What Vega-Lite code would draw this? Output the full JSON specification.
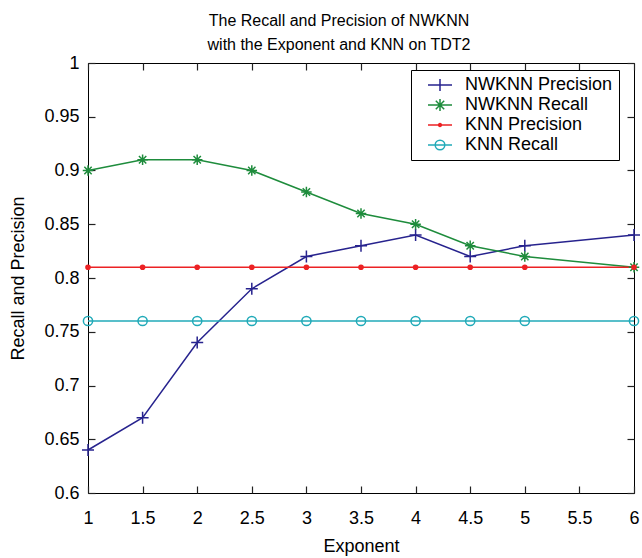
{
  "$schema": "https://vega.github.io/schema/vega-lite/v6.json",
  "width": 546,
  "height": 430,
  "autosize": {"type": "none"},
  "padding": {"left": 88, "top": 63, "right": 8, "bottom": 65},
  "background": "white",
  "title": {
    "text": ["The Recall and Precision of NWKNN", "with the Exponent and KNN on TDT2"],
    "font": "Liberation Sans",
    "fontSize": 16,
    "fontWeight": "normal",
    "color": "black",
    "anchor": "middle",
    "lineHeight": 24,
    "offset": 1,
    "dx": -22
  },
  "config": {
    "view": {"stroke": "black", "strokeWidth": 1},
    "axis": {
      "grid": false,
      "domain": false,
      "labelColor": "black",
      "titleColor": "black",
      "labelFont": "Liberation Sans",
      "titleFont": "Liberation Sans",
      "labelFontSize": 18,
      "titleFontSize": 18,
      "titleFontWeight": "normal",
      "labelFlush": false,
      "labelOverlap": false
    }
  },
  "datasets": {
    "main": [
      {"exponent": 1, "value": 0.64, "series": "NWKNN Precision"},
      {"exponent": 1.5, "value": 0.67, "series": "NWKNN Precision"},
      {"exponent": 2, "value": 0.74, "series": "NWKNN Precision"},
      {"exponent": 2.5, "value": 0.79, "series": "NWKNN Precision"},
      {"exponent": 3, "value": 0.82, "series": "NWKNN Precision"},
      {"exponent": 3.5, "value": 0.83, "series": "NWKNN Precision"},
      {"exponent": 4, "value": 0.84, "series": "NWKNN Precision"},
      {"exponent": 4.5, "value": 0.82, "series": "NWKNN Precision"},
      {"exponent": 5, "value": 0.83, "series": "NWKNN Precision"},
      {"exponent": 6, "value": 0.84, "series": "NWKNN Precision"},
      {"exponent": 1, "value": 0.90, "series": "NWKNN Recall"},
      {"exponent": 1.5, "value": 0.91, "series": "NWKNN Recall"},
      {"exponent": 2, "value": 0.91, "series": "NWKNN Recall"},
      {"exponent": 2.5, "value": 0.90, "series": "NWKNN Recall"},
      {"exponent": 3, "value": 0.88, "series": "NWKNN Recall"},
      {"exponent": 3.5, "value": 0.86, "series": "NWKNN Recall"},
      {"exponent": 4, "value": 0.85, "series": "NWKNN Recall"},
      {"exponent": 4.5, "value": 0.83, "series": "NWKNN Recall"},
      {"exponent": 5, "value": 0.82, "series": "NWKNN Recall"},
      {"exponent": 6, "value": 0.81, "series": "NWKNN Recall"},
      {"exponent": 1, "value": 0.81, "series": "KNN Precision"},
      {"exponent": 1.5, "value": 0.81, "series": "KNN Precision"},
      {"exponent": 2, "value": 0.81, "series": "KNN Precision"},
      {"exponent": 2.5, "value": 0.81, "series": "KNN Precision"},
      {"exponent": 3, "value": 0.81, "series": "KNN Precision"},
      {"exponent": 3.5, "value": 0.81, "series": "KNN Precision"},
      {"exponent": 4, "value": 0.81, "series": "KNN Precision"},
      {"exponent": 4.5, "value": 0.81, "series": "KNN Precision"},
      {"exponent": 5, "value": 0.81, "series": "KNN Precision"},
      {"exponent": 6, "value": 0.81, "series": "KNN Precision"},
      {"exponent": 1, "value": 0.76, "series": "KNN Recall"},
      {"exponent": 1.5, "value": 0.76, "series": "KNN Recall"},
      {"exponent": 2, "value": 0.76, "series": "KNN Recall"},
      {"exponent": 2.5, "value": 0.76, "series": "KNN Recall"},
      {"exponent": 3, "value": 0.76, "series": "KNN Recall"},
      {"exponent": 3.5, "value": 0.76, "series": "KNN Recall"},
      {"exponent": 4, "value": 0.76, "series": "KNN Recall"},
      {"exponent": 4.5, "value": 0.76, "series": "KNN Recall"},
      {"exponent": 5, "value": 0.76, "series": "KNN Recall"},
      {"exponent": 6, "value": 0.76, "series": "KNN Recall"}
    ],
    "legend": [
      {"exponent": 0, "value": 0.5, "series": "NWKNN Precision"},
      {"exponent": 0, "value": 0.5, "series": "NWKNN Recall"},
      {"exponent": 0, "value": 0.5, "series": "KNN Precision"},
      {"exponent": 0, "value": 0.5, "series": "KNN Recall"}
    ]
  },
  "data": {"name": "main"},
  "resolve": {"axis": {"x": "independent", "y": "independent"}},
  "layer": [
    {
      "data": {"name": "legend"},
      "mark": {"type": "point", "filled": false, "clip": true, "strokeWidth": 1.5, "opacity": 1},
      "encoding": {
        "x": {"field": "exponent", "type": "quantitative", "scale": {"domain": [1, 6]},
              "axis": {"values": [1, 1.5, 2, 2.5, 3, 3.5, 4, 4.5, 5, 5.5, 6], "format": "~g", "title": "Exponent", "labelPadding": 16, "titlePadding": 10, "offset": -7,
                       "ticks": true, "tickSize": 7, "tickColor": "#222222", "tickWidth": 1.2}},
        "y": {"field": "value", "type": "quantitative", "scale": {"domain": [0.6, 1]},
              "axis": {"values": [0.6, 0.65, 0.7, 0.75, 0.8, 0.85, 0.9, 0.95, 1], "format": "~g", "title": "Recall and Precision", "labelPadding": 9, "titlePadding": 16, "offset": -7,
                       "ticks": true, "tickSize": 7, "tickColor": "#222222", "tickWidth": 1.2}},
        "color": {"field": "series", "type": "nominal",
                  "scale": {"domain": ["NWKNN Precision", "NWKNN Recall", "KNN Precision", "KNN Recall"], "range": ["#27238e", "#1e8c3c", "#ec2224", "#20aab8"]},
                  "legend": {"orient": "none", "legendX": 323, "legendY": 7, "title": null,
                             "strokeColor": "black", "fillColor": "white", "padding": 6,
                             "symbolSize": 144, "symbolStrokeWidth": 1.5, "symbolOffset": 14, "symbolFillColor": "transparent",
                             "labelFont": "Liberation Sans", "labelFontSize": 18, "labelColor": "black",
                             "labelOffset": 16, "rowPadding": 2, "labelLimit": 300}},
        "shape": {"field": "series", "type": "nominal",
                  "scale": {"domain": ["NWKNN Precision", "NWKNN Recall", "KNN Precision", "KNN Recall"],
                            "range": ["M-2,0H2M0,-1V1",
                                      "M-2,0H2M0,-1V1M-0.7,-0.7L0.7,0.7M-0.7,0.7L0.7,-0.7",
                                      "M-2,0H2M-0.25,0A0.25,0.25 0 1,0 0.25,0A0.25,0.25 0 1,0 -0.25,0",
                                      "M-2,0H2M-0.8,0A0.8,0.8 0 1,0 0.8,0A0.8,0.8 0 1,0 -0.8,0"]},
                  "legend": {"orient": "none", "legendX": 323, "legendY": 7, "title": null,
                             "strokeColor": "black", "fillColor": "white", "padding": 6,
                             "symbolSize": 144, "symbolStrokeWidth": 1.5, "symbolOffset": 14, "symbolFillColor": "transparent",
                             "labelFont": "Liberation Sans", "labelFontSize": 18, "labelColor": "black",
                             "labelOffset": 16, "rowPadding": 2, "labelLimit": 300}}
      }
    },
    {
      "mark": {"type": "line", "strokeWidth": 1.5},
      "encoding": {
        "x": {"field": "exponent", "type": "quantitative",
              "axis": {"orient": "top", "values": [1, 1.5, 2, 2.5, 3, 3.5, 4, 4.5, 5, 5.5, 6], "labels": false, "title": null, "offset": -7,
                       "ticks": true, "tickSize": 7, "tickColor": "#222222", "tickWidth": 1.2}},
        "y": {"field": "value", "type": "quantitative",
              "axis": {"orient": "right", "values": [0.6, 0.65, 0.7, 0.75, 0.8, 0.85, 0.9, 0.95, 1], "labels": false, "title": null, "offset": -7,
                       "ticks": true, "tickSize": 7, "tickColor": "#222222", "tickWidth": 1.2}},
        "color": {"field": "series", "type": "nominal"},
        "detail": {"field": "series"}
      }
    },
    {
      "transform": [{"filter": "datum.series === 'NWKNN Precision'"}],
      "mark": {"type": "point", "shape": "M-1,0H1M0,-1V1", "filled": false, "size": 144, "strokeWidth": 1.5, "opacity": 1},
      "encoding": {
        "x": {"field": "exponent", "type": "quantitative", "axis": null},
        "y": {"field": "value", "type": "quantitative", "axis": null},
        "color": {"field": "series", "type": "nominal"}
      }
    },
    {
      "transform": [{"filter": "datum.series === 'NWKNN Recall'"}],
      "mark": {"type": "point", "shape": "M-1,0H1M0,-1V1M-0.7,-0.7L0.7,0.7M-0.7,0.7L0.7,-0.7", "filled": false, "size": 110, "strokeWidth": 1.5, "opacity": 1},
      "encoding": {
        "x": {"field": "exponent", "type": "quantitative", "axis": null},
        "y": {"field": "value", "type": "quantitative", "axis": null},
        "color": {"field": "series", "type": "nominal"}
      }
    },
    {
      "transform": [{"filter": "datum.series === 'KNN Precision'"}],
      "mark": {"type": "point", "shape": "circle", "filled": false, "size": 7, "strokeWidth": 3, "opacity": 1},
      "encoding": {
        "x": {"field": "exponent", "type": "quantitative", "axis": null},
        "y": {"field": "value", "type": "quantitative", "axis": null},
        "color": {"field": "series", "type": "nominal"}
      }
    },
    {
      "transform": [{"filter": "datum.series === 'KNN Recall'"}],
      "mark": {"type": "point", "shape": "circle", "filled": false, "size": 85, "strokeWidth": 1.5, "opacity": 1},
      "encoding": {
        "x": {"field": "exponent", "type": "quantitative", "axis": null},
        "y": {"field": "value", "type": "quantitative", "axis": null},
        "color": {"field": "series", "type": "nominal"}
      }
    }
  ]
}
